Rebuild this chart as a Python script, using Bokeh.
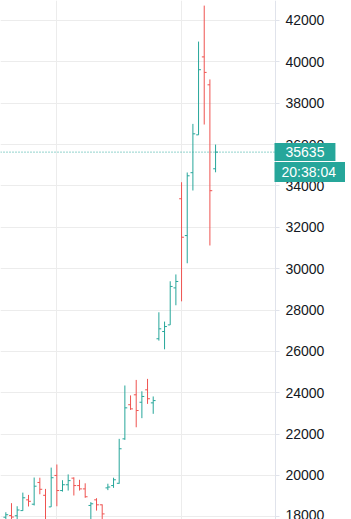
from bokeh.plotting import figure
from bokeh.models import Range1d, FixedTicker, Span, Label, BoxAnnotation, ColumnDataSource
from bokeh.embed import file_html
from bokeh.resources import INLINE

# ---- data ----
bar_index = list(range(1, 39))
open_ = [17980, 18060, 18050, 18300, 18820, 18610, 19660, 19040, 18480, 20000,
         19270, 19550, 19870, 19510, 19350, 18550, 18820, 18580, 19400, 19510,
         19620, 21770, 23420, 23900, 23540, 24140, 23510, 26610, 26960, 27280,
         29070, 33380, 31600, 34640, 36470, 40240, 38890, 34830]
high = [18220, 18660, 18510, 19170, 19060, 19900, 19890, 19350, 20380, 20530,
        19770, 20050, 19910, 19790, 19620, 18710, 18900, 18600, 19600, 19890,
        21770, 24350, 23870, 24620, 24070, 24670, 23820, 27890, 27440, 29390,
        29720, 34180, 34650, 37000, 40980, 42720, 39150, 36000]
low = [17600, 17700, 17800, 18290, 18500, 18550, 19090, 17600, 18480, 18510,
       19220, 19270, 19030, 19270, 18920, 17700, 18300, 17800, 19290, 19400,
       19600, 21720, 23170, 22330, 22770, 23460, 22980, 26520, 26100, 27280,
       28230, 28420, 30260, 33780, 36470, 36970, 31120, 34660]
close = [18100, 17990, 18330, 18920, 18750, 19480, 19330, 17750, 19890, 19270,
         19550, 19750, 19510, 19350, 18970, 18630, 18580, 18140, 19440, 19790,
         21290, 23270, 23220, 23140, 23820, 23710, 23620, 27090, 27200, 29140,
         29380, 31520, 34490, 36520, 39620, 39490, 33770, 35635]
price_ticks = list(range(18000, 42001, 2000))
grid_bars = [10, 32]
last_price = 35635
countdown = "20:38:04"

UP = "#26a69a"
DOWN = "#ef5350"
FONT = "Liberation Sans"
GRID = "#ececec"

colors = [UP if c >= o else DOWN for o, c in zip(open_, close)]
tick = 0.42
src = ColumnDataSource(dict(
    x=bar_index, o=open_, h=high, l=low, c=close, color=colors,
    xl=[i - tick for i in bar_index], xr=[i + tick for i in bar_index],
))

# x: one unit per bar; the price scale sits inside the frame at scale_x
x_start, x_end = 0.06, 61.98
scale_x = 48.57

p = figure(width=351, height=519, output_backend="svg", toolbar_location=None,
           x_range=Range1d(x_start, x_end), y_range=Range1d(17870, 42967),
           x_axis_location=None, y_axis_location="right",
           min_border_left=0, min_border_right=0, min_border_top=0, min_border_bottom=0)
p.outline_line_color = None
p.background_fill_color = "white"
p.border_fill_color = "white"

p.xgrid.ticker = FixedTicker(ticks=grid_bars)
p.xgrid.grid_line_color = GRID
p.ygrid.grid_line_color = GRID

# last-price dotted line (underneath the price-scale panel)
p.add_layout(Span(location=last_price, dimension="width", line_color=UP,
                  line_dash="1 2", line_width=1, level="underlay"))

# white price-scale area to the right of the chart pane
p.add_layout(BoxAnnotation(left=scale_x, fill_color="white", fill_alpha=1.0,
                           line_alpha=0, level="glyph"))

ax = p.yaxis[0]
ax.fixed_location = scale_x
ax.ticker = FixedTicker(ticks=price_ticks)
ax.axis_line_color = "#e0e3eb"
ax.major_tick_line_color = "#e0e3eb"
ax.major_tick_out = 4
ax.major_tick_in = 0
ax.minor_tick_line_color = None
ax.major_label_standoff = 6
ax.major_label_text_font = FONT
ax.major_label_text_font_size = "14px"
ax.major_label_text_color = "#131722"

p.segment(x0="x", y0="l", x1="x", y1="h", line_color="color", line_width=1, source=src)
p.segment(x0="xl", y0="o", x1="x", y1="o", line_color="color", line_width=1, source=src)
p.segment(x0="x", y0="c", x1="xr", y1="c", line_color="color", line_width=1, source=src)

p.add_layout(Label(x=274, x_units="screen", y=last_price, y_units="data",
                   text=str(last_price), text_color="white", text_font=FONT,
                   text_font_size="14px", text_align="left", text_baseline="middle",
                   background_fill_color=UP,
                   padding=dict(left=11, right=11, top=4, bottom=4)))
p.add_layout(Label(x=274, x_units="screen", y=last_price, y_units="data", y_offset=-20,
                   text=countdown, text_color="white", text_font=FONT,
                   text_font_size="14px", text_align="left", text_baseline="middle",
                   background_fill_color=UP,
                   padding=dict(left=7, right=9, top=2, bottom=2)))

open("out.html", "w").write(file_html(p, INLINE))
